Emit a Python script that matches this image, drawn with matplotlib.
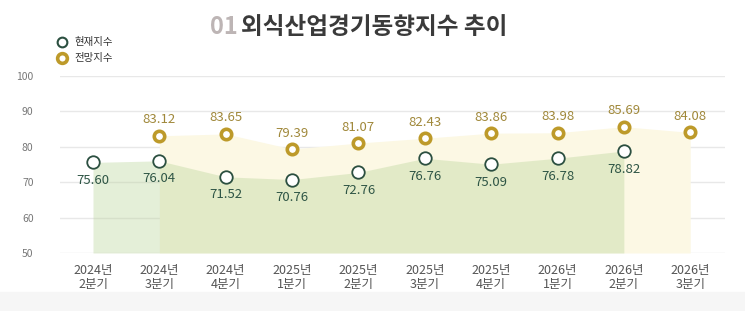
import numpy as np
import matplotlib.pyplot as plt
from matplotlib.patches import Rectangle

plt.rcParams['font.family'] = ['Noto Sans CJK KR', 'DejaVu Sans']

# 데이터
quarters = ['2024년\n2분기', '2024년\n3분기', '2024년\n4분기', '2025년\n1분기', '2025년\n2분기',
            '2025년\n3분기', '2025년\n4분기', '2026년\n1분기', '2026년\n2분기', '2026년\n3분기']
current = [75.60, 76.04, 71.52, 70.76, 72.76, 76.76, 75.09, 76.78, 78.82]      # 현재지수 (0~8)
outlook = [83.12, 83.65, 79.39, 81.07, 82.43, 83.86, 83.98, 85.69, 84.08]      # 전망지수 (1~9)
yticks = [50, 60, 70, 80, 90, 100]

x_cur = np.arange(len(current))
x_out = np.arange(1, len(outlook) + 1)

fig = plt.figure(figsize=(7.45, 3.11), dpi=100)
fig.patches.append(Rectangle((0, 0), 1, 0.061, transform=fig.transFigure,
                             color='#f6f6f6', zorder=0))

ax = fig.add_axes([0.0805, 0.1865, 0.893, 0.569])
ax.set_xlim(-0.4975, 9.528)
ax.set_ylim(50, 100)

# 영역
ax.fill_between(x_out, outlook, 50, color='#fcf8e4', lw=0, zorder=1)
ax.fill_between(x_cur, current, 50, color='#b9d59a', alpha=0.38, lw=0, zorder=2)

# 마커
ax.plot(x_cur, current, 'o', ms=9, mfc='white', mec='#2b4f40', mew=1.3, zorder=5, clip_on=False)
ax.plot(x_out, outlook, 'o', ms=7.5, mfc='white', mec='#bd9a2a', mew=2.6, zorder=5, clip_on=False)

for x, v in zip(x_cur, current):
    ax.annotate(f'{v:.2f}', (x, v), xytext=(0, -13), textcoords='offset points',
                ha='center', va='center', fontsize=9.5, color='#2e5545', zorder=6)
for x, v in zip(x_out, outlook):
    ax.annotate(f'{v:.2f}', (x, v), xytext=(0, 11.5), textcoords='offset points',
                ha='center', va='center', fontsize=9.5, color='#a0883a', zorder=6)

ax.set_yticks(yticks)
ax.set_yticklabels([str(t) for t in yticks], fontsize=7.5, color='#777777')
ax.set_xticks(range(len(quarters)))
ax.set_xticklabels(quarters, fontsize=9, color='#555555', linespacing=1.05)
ax.tick_params(length=0, pad=8)
ax.tick_params(axis='y', pad=19)
ax.grid(axis='y', color='#e8e8e8', lw=1, zorder=0)
ax.set_axisbelow(True)
for s in ax.spines.values():
    s.set_visible(False)
ax.patch.set_alpha(0)

# 제목
fig.text(0.282, 0.913, '01', ha='left', va='center', fontsize=17, fontweight='bold', color='#bdb5b5')
fig.text(0.323, 0.913, '외식산업경기동향지수 추이', ha='left', va='center', fontsize=17,
         fontweight='bold', color='#3a3a3a')

# 범례
fig.lines.append(plt.Line2D([0.083], [0.864], marker='o', ms=7, mfc='white', mec='#2b4f40',
                            mew=1.5, transform=fig.transFigure))
fig.lines.append(plt.Line2D([0.083], [0.812], marker='o', ms=7, mfc='white', mec='#bd9a2a',
                            mew=2.6, transform=fig.transFigure))
fig.text(0.1, 0.864, '현재지수', fontsize=7.5, color='#333333', va='center')
fig.text(0.1, 0.812, '전망지수', fontsize=7.5, color='#333333', va='center')

fig.savefig('out.png', dpi=100)
